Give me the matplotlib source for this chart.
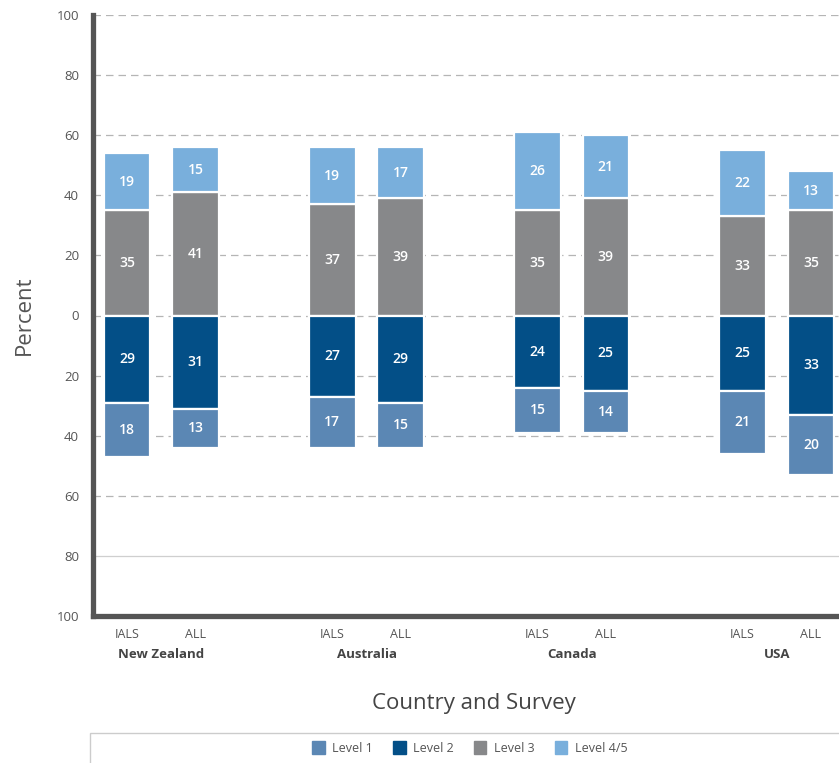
import numpy as np
import matplotlib.pyplot as plt
from matplotlib.patches import Patch, Rectangle

plt.rcParams['font.family'] = ['Open Sans', 'DejaVu Sans']

countries = ['New Zealand', 'Australia', 'Canada', 'USA']
surveys = ['IALS', 'ALL']

# one value per bar, order: NZ IALS, NZ ALL, AU IALS, AU ALL, CA IALS, CA ALL, US IALS, US ALL
level1 = [18, 13, 17, 15, 15, 14, 21, 20]
level2 = [29, 31, 27, 29, 24, 25, 25, 33]
level3 = [35, 41, 37, 39, 35, 39, 33, 35]
level45 = [19, 15, 19, 17, 26, 21, 22, 13]

colors = {
    'Level 1': '#5b87b4',
    'Level 2': '#034f87',
    'Level 3': '#87888a',
    'Level 4/5': '#79afdc',
}

x = np.array([g * 3 + s for g in range(len(countries)) for s in range(len(surveys))], dtype=float)
width = 0.68

fig = plt.figure(figsize=(8.39, 7.63), dpi=100)
ax = fig.add_axes([93 / 839, 1 - 616 / 763, 1 - 93 / 839, (616 - 15) / 763])

l1 = np.array(level1)
l2 = np.array(level2)
l3 = np.array(level3)
l45 = np.array(level45)

segments = [
    ('Level 3', l3, np.zeros(len(x))),
    ('Level 4/5', l45, l3),
    ('Level 2', -l2, np.zeros(len(x))),
    ('Level 1', -l1, -l2),
]
for name, h, b in segments:
    ax.bar(x, h, width, bottom=b, color=colors[name],
           edgecolor='white', linewidth=1.6, zorder=3)
    for xi, hi, bi in zip(x, h, b):
        ax.text(xi, bi + hi / 2, f'{abs(int(hi))}', ha='center', va='center',
                color='white', fontsize=10, fontweight='semibold', zorder=4)

ax.set_ylim(-100, 100)
ax.set_xlim(-0.5, 10.41)
yt = np.arange(-100, 101, 20)
ax.set_yticks(yt)
ax.set_yticklabels([str(abs(v)) for v in yt], color='#555555', fontsize=9.5)
ax.tick_params(axis='y', length=0, pad=10)
ax.tick_params(axis='x', length=0)
ax.set_xticks([])

for v in yt[1:]:
    if v == -80:
        ax.axhline(v, color='#cfcfcf', lw=0.9, zorder=1)
    else:
        ax.axhline(v, color='#b5b5b5', lw=0.9, ls=(0, (6, 4)), zorder=1)

for side in ['top', 'right']:
    ax.spines[side].set_visible(False)
for side in ['left', 'bottom']:
    ax.spines[side].set_color('#555555')
    ax.spines[side].set_linewidth(3.8)

# survey labels and country names under the axis
for xi, lab in zip(x, surveys * len(countries)):
    ax.text(xi, -104, lab, ha='center', va='top', color='#555555', fontsize=9)
for g, c in enumerate(countries):
    ax.text(g * 3 + 0.5, -110.5, c, ha='center', va='top', color='#444444',
            fontsize=9.5, fontweight='bold')

ax.set_ylabel('Percent', fontsize=16, color='#555555', labelpad=16)
fig.text(0.565, 1 - 704 / 763, 'Country and Survey', ha='center', va='center',
         fontsize=16, color='#444444')

# legend box
fig.patches.append(Rectangle((90 / 839, -0.05), 1.0, 0.05 + 30 / 763,
                             transform=fig.transFigure, fill=False,
                             edgecolor='#cccccc', lw=1))
handles = [Patch(color=colors[k]) for k in colors]
fig.legend(handles, list(colors), loc='center', bbox_to_anchor=(0.56, 1 - 748 / 763),
           ncol=4, frameon=False, fontsize=9, handlelength=1.0, handleheight=1.2,
           columnspacing=1.6, handletextpad=0.6, labelcolor='#555555')

fig.savefig('out.png', dpi=100)
